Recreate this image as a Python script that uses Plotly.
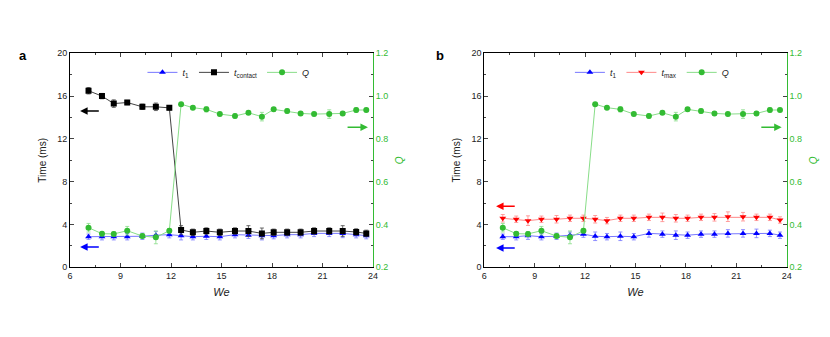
import plotly.graph_objects as go

# ---------------- data ----------------
we = [7.1, 7.9, 8.6, 9.4, 10.3, 11.1, 11.9, 12.6, 13.3, 14.1, 14.9, 15.8, 16.6,
      17.4, 18.1, 18.9, 19.7, 20.5, 21.4, 22.2, 23.0, 23.6]

t1_a = [2.86, 2.86, 2.86, 2.86, 2.9, 3.0, 3.05, 2.96, 2.86, 2.9, 2.86, 3.05, 3.0,
        2.96, 2.96, 3.05, 3.05, 3.17, 3.17, 3.17, 3.05, 2.96]
t1_a_err = [0.25, 0.3, 0.3, 0.3, 0.3, 0.35, 0.3, 0.4, 0.3, 0.3, 0.3, 0.3, 0.3,
            0.4, 0.3, 0.3, 0.3, 0.3, 0.3, 0.4, 0.3, 0.3]

tcontact = [16.5, 16.0, 15.3, 15.4, 15.0, 15.0, 14.9, 3.49, 3.27, 3.39, 3.27, 3.39, 3.39,
            3.17, 3.27, 3.27, 3.27, 3.39, 3.39, 3.39, 3.3, 3.17]
tcontact_err = [0.3, 0.25, 0.35, 0.2, 0.25, 0.35, 0.2, 0.4, 0.3, 0.3, 0.3, 0.3, 0.5,
                0.5, 0.3, 0.3, 0.3, 0.3, 0.3, 0.5, 0.3, 0.3]

Q = [0.385, 0.357, 0.356, 0.371, 0.346, 0.340, 0.371, 0.962, 0.946, 0.938, 0.916, 0.907,
     0.922, 0.904, 0.938, 0.930, 0.919, 0.916, 0.916, 0.919, 0.935, 0.935]
Q_err = [0.02, 0.01, 0.01, 0.02, 0.01, 0.03, 0.01, 0.005, 0.008, 0.012, 0.008, 0.01,
         0.008, 0.02, 0.008, 0.01, 0.008, 0.008, 0.02, 0.008, 0.01, 0.008]

t1_b = [2.86, 2.86, 2.96, 2.86, 2.9, 3.0, 3.1, 2.9, 2.86, 2.9, 2.86, 3.17, 3.1,
        3.0, 3.0, 3.1, 3.1, 3.17, 3.17, 3.17, 3.17, 3.0]
t1_b_err = [0.25, 0.3, 0.35, 0.3, 0.3, 0.3, 0.3, 0.4, 0.3, 0.4, 0.3, 0.35, 0.3,
            0.4, 0.3, 0.3, 0.3, 0.35, 0.35, 0.4, 0.3, 0.3]

tmax = [4.58, 4.49, 4.36, 4.49, 4.49, 4.58, 4.58, 4.49, 4.36, 4.58, 4.58, 4.67, 4.67,
        4.58, 4.58, 4.67, 4.67, 4.73, 4.73, 4.67, 4.67, 4.42]
tmax_err = [0.35, 0.3, 0.45, 0.3, 0.35, 0.3, 0.3, 0.35, 0.3, 0.3, 0.3, 0.3, 0.4,
            0.35, 0.3, 0.3, 0.35, 0.45, 0.4, 0.3, 0.3, 0.3]

x_ticks = [6, 9, 12, 15, 18, 21, 24]
y_ticks = [0, 4, 8, 12, 16, 20]
q_ticks = [0.2, 0.4, 0.6, 0.8, 1.0, 1.2]

# ---------------- styles ----------------
BLUE, BLUE_L = "#0000ff", "#7777ff"
BLACK, BLACK_L = "#000000", "#444444"
GREEN, GREEN_L = "#33bb33", "#88dd88"
RED, RED_L = "#ff0000", "#ff8888"
FONT = "Liberation Sans, Arial, sans-serif"
W, H, OFF = 830, 337, 8   # OFF: default body margin of the html page

fig = go.Figure()


def add(x, y, err, name, mcol, lcol, sym, xa, ya, legend):
    fig.add_trace(go.Scatter(
        x=x, y=y, name=name, mode="lines+markers",
        xaxis=xa, yaxis=ya, legend=legend,
        line=dict(color=lcol, width=1),
        marker=dict(symbol=sym, size=6, color=mcol),
        error_y=dict(type="data", array=err, color=lcol, thickness=0.8, width=2),
    ))


# panel a
add(we, t1_a, t1_a_err, "<i>t</i><sub>1</sub>", BLUE, BLUE_L, "triangle-up", "x", "y", "legend")
add(we, tcontact, tcontact_err, "<i>t</i><sub>contact</sub>", BLACK, BLACK_L, "square", "x", "y", "legend")
add(we, Q, Q_err, "<i>Q</i>", GREEN, GREEN_L, "circle", "x", "y2", "legend")
# panel b
add(we, t1_b, t1_b_err, "<i>t</i><sub>1</sub>", BLUE, BLUE_L, "triangle-up", "x2", "y3", "legend2")
add(we, tmax, tmax_err, "<i>t</i><sub>max</sub>", RED, RED_L, "triangle-down", "x2", "y3", "legend2")
add(we, Q, Q_err, "<i>Q</i>", GREEN, GREEN_L, "circle", "x2", "y4", "legend2")


def px_x(p):
    return (p - OFF) / W


def px_y(p):
    return 1 - (p - OFF) / H


ydom = [px_y(267.3), px_y(53.3)]
xa_common = dict(range=[6, 24], tickvals=x_ticks, ticks="inside", ticklen=4, showline=True,
                 linecolor="black", linewidth=1, mirror="ticks", showgrid=False, zeroline=False,
                 automargin=False,
                 minor=dict(ticks="inside", ticklen=2, dtick=1.5, tick0=6),
                 tickfont=dict(size=9, color="#222"),
                 title=dict(text="<i>We</i>", font=dict(size=11, color="#222"), standoff=8))
ya_common = dict(range=[0, 20], tickvals=y_ticks, ticks="inside", ticklen=4, showline=True,
                 linecolor="black", linewidth=1, showgrid=False, zeroline=False,
                 automargin=False,
                 minor=dict(ticks="inside", ticklen=2, dtick=2, tick0=0),
                 tickfont=dict(size=9, color="#222"),
                 title=dict(text="Time (ms)", font=dict(size=10, color="#222"), standoff=8))
yq_common = dict(range=[0.2, 1.2], tickvals=q_ticks, tickformat=".1f", ticks="inside", ticklen=4,
                 showline=True, linecolor=GREEN, linewidth=1, showgrid=False, zeroline=False,
                 automargin=False,
                 side="right", minor=dict(ticks="inside", ticklen=2, dtick=0.1, tick0=0.2),
                 tickfont=dict(size=9, color=GREEN),
                 title=dict(text="<i>Q</i>", font=dict(size=10, color=GREEN), standoff=8))

fig.update_layout(
    width=W, height=H, margin=dict(l=0, r=0, t=0, b=0, autoexpand=False),
    plot_bgcolor="white", paper_bgcolor="white",
    font=dict(family=FONT, size=9, color="#222"),
    xaxis=dict(domain=[px_x(70), px_x(373)], anchor="y", **xa_common),
    yaxis=dict(domain=ydom, anchor="x", **ya_common),
    yaxis2=dict(overlaying="y", anchor="x", **yq_common),
    xaxis2=dict(domain=[px_x(484.3), px_x(786.7)], anchor="y3", **xa_common),
    yaxis3=dict(domain=ydom, anchor="x2", **ya_common),
    yaxis4=dict(overlaying="y3", anchor="x2", **yq_common),
    legend=dict(orientation="h", x=0.162, y=0.809, xanchor="left", yanchor="middle",
                bgcolor="rgba(0,0,0,0)", font=dict(size=9), itemwidth=30, tracegroupgap=0),
    legend2=dict(orientation="h", x=0.677, y=0.809, xanchor="left", yanchor="middle",
                 bgcolor="rgba(0,0,0,0)", font=dict(size=9), itemwidth=30, tracegroupgap=0),
    showlegend=True,
)


def arrow(xref, yref, x0, x1, y, col):
    fig.add_annotation(x=x1, y=y, ax=x0, ay=y, xref=xref, yref=yref, axref=xref, ayref=yref,
                       text="", showarrow=True, arrowhead=2, arrowsize=1, arrowwidth=1.5,
                       arrowcolor=col)


arrow("x", "y", 7.8, 6.6, 14.6, BLACK)
arrow("x", "y", 7.8, 6.6, 1.9, BLUE)
arrow("x", "y2", 22.4, 23.7, 0.855, GREEN)
arrow("x2", "y3", 7.9, 6.7, 5.7, RED)
arrow("x2", "y3", 7.9, 6.7, 1.8, BLUE)
arrow("x2", "y4", 22.4, 23.7, 0.855, GREEN)

for lbl, px in [("a", 23), ("b", 440)]:
    fig.add_annotation(x=px_x(px), y=px_y(55), xref="paper", yref="paper",
                       xanchor="center", yanchor="middle",
                       text="<b>%s</b>" % lbl, showarrow=False,
                       font=dict(size=13, color="black", family=FONT))

fig.write_html("out.html")
